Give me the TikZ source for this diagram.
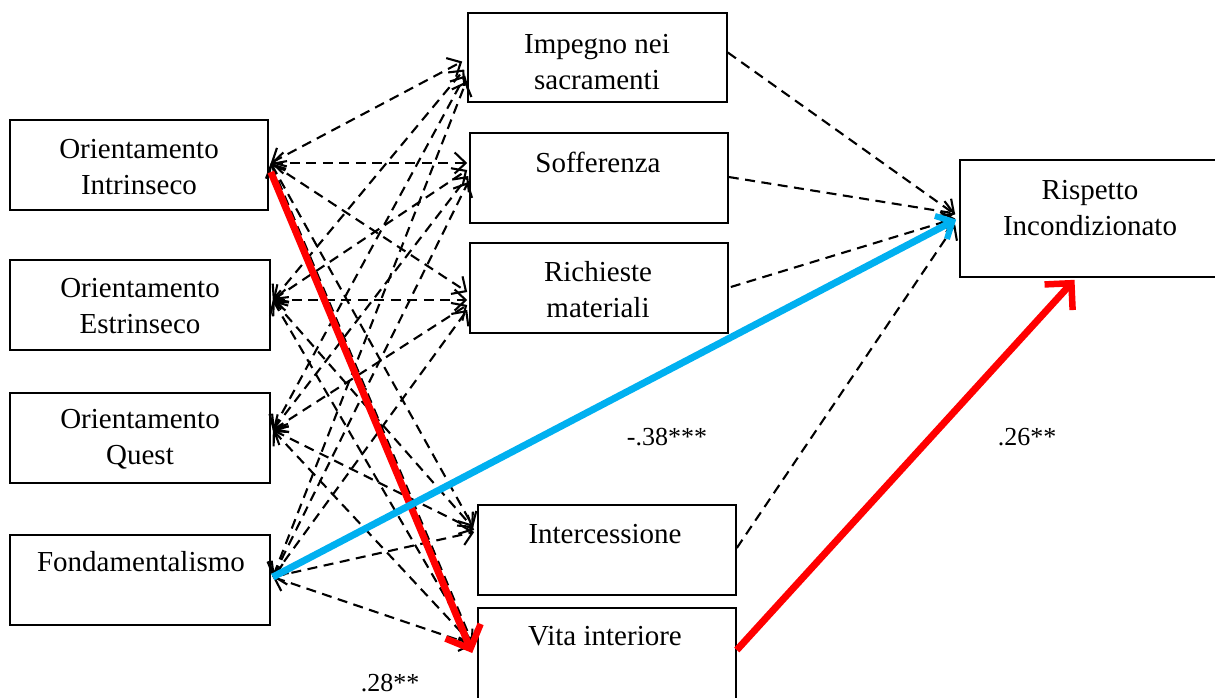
\documentclass[tikz,border=0pt]{standalone}
\usepackage{fontspec}
\setmainfont{Liberation Serif}
\usetikzlibrary{arrows.meta,calc}
\definecolor{pathred}{RGB}{255,0,0}
\definecolor{pathblue}{RGB}{0,176,240}
\begin{document}
\begin{tikzpicture}[x=1pt,y=-1pt,
  box/.style={draw,line width=1.6pt,rectangle,inner sep=0pt},
  txt/.style={font=\fontsize{29}{36}\selectfont,align=center,inner sep=0pt},
  lbl/.style={font=\fontsize{26}{30}\selectfont,inner sep=0pt},
  dsh/.style={line width=2.1pt,dash pattern=on 10pt off 6.5pt},
  bi/.style={dsh,{Straight Barb[length=11pt,width=21pt,line width=2.1pt]}-{Straight Barb[length=11pt,width=21pt,line width=2.1pt]}},
  one/.style={dsh,-{Straight Barb[length=11pt,width=21pt,line width=2.1pt]}},
  thick red/.style={draw=pathred,line width=7pt,-{Straight Barb[length=19pt,width=38pt,line width=6.5pt]}},
  thick blue/.style={draw=pathblue,line width=7pt,-{Straight Barb[length=13pt,width=26pt,line width=6pt]}}
]
\useasboundingbox (0,0) rectangle (1215,697);

% boxes
\node[box,minimum width=258pt,minimum height=90pt] (I) at (139,165) {};
\node[box,minimum width=260pt,minimum height=90pt] (E) at (140,305) {};
\node[box,minimum width=260pt,minimum height=90pt] (Q) at (140,438) {};
\node[box,minimum width=260pt,minimum height=90pt] (F) at (140,580) {};
\node[box,minimum width=259pt,minimum height=89pt] (Imp) at (597.5,57.5) {};
\node[box,minimum width=258pt,minimum height=90pt] (Sof) at (599,178) {};
\node[box,minimum width=258pt,minimum height=90pt] (Ric) at (599,288) {};
\node[box,minimum width=258pt,minimum height=90pt] (Int) at (607,550) {};
\node[box,minimum width=258pt,minimum height=112pt] (Vit) at (607,664) {};
\node[box,minimum width=265pt,minimum height=117pt] (Ris) at (1092.5,218.5) {};

% texts
\node[txt] (tI) at (139,167) {Orientamento\\Intrinseco};
\node[txt] (tE) at (140,306) {Orientamento\\Estrinseco};
\node[txt] (tQ) at (140,439) {Orientamento\\Quest};
\node[txt] (tF) at (141,562) {Fondamentalismo};
\node[txt] (tImp) at (597,62) {Impegno nei\\sacramenti};
\node[txt] (tSof) at (598,162) {Sofferenza};
\node[txt] (tRic) at (598,290) {Richieste\\materiali};
\node[txt] (tInt) at (605,534) {Intercessione};
\node[txt] (tVit) at (605,636) {Vita interiore};
\node[txt] (tRis) at (1090,208) {Rispetto\\Incondizionato};

% left anchor points
\coordinate (Ia) at ($(I.east)+(2,-2)$);
\coordinate (Ea) at ($(E.east)+(2,-5)$);
\coordinate (Qa) at ($(Q.east)+(2,-8)$);
\coordinate (Fa) at ($(F.east)+(2,-3)$);

% dashed paths left -> middle
\draw[bi] (Ia) -- ($(Imp.west)+(-5,4)$);
\draw[bi] (Ea) -- ($(Imp.west)+(-3,12)$);
\draw[bi] (Qa) -- ($(Imp.west)+(-2,18)$);
\draw[bi] (Fa) -- ($(Imp.west)+(-1,24)$);

\draw[bi] (Ia) -- ($(Sof.west)+(-2,-15)$);
\draw[bi] (Ea) -- ($(Sof.west)+(-2,-8)$);
\draw[bi] (Qa) -- ($(Sof.west)+(-1,-2)$);
\draw[bi] (Fa) -- ($(Sof.west)+(-1,4)$);

\draw[bi] (Ia) -- ($(Ric.west)+(-2,4)$);
\draw[bi] (Ea) -- ($(Ric.west)+(-2,12)$);
\draw[bi] (Qa) -- ($(Ric.west)+(-2,17)$);
\draw[bi] (Fa) -- ($(Ric.west)+(-2,22)$);

\draw[bi] (Ia) -- ($(Int.west)+(-4,-23)$);
\draw[bi] (Ea) -- ($(Int.west)+(-4,-22)$);
\draw[bi] (Qa) -- ($(Int.west)+(-3,-20)$);
\draw[bi] (Fa) -- ($(Int.west)+(-3,-18)$);

\draw[bi] (Ia) -- ($(Vit.west)+(-4,-19)$);
\draw[bi] (Ea) -- ($(Vit.west)+(-4,-19)$);
\draw[bi] (Qa) -- ($(Vit.west)+(-4,-19)$);
\draw[bi] (Fa) -- ($(Vit.west)+(-4,-19)$);

% dashed paths middle -> outcome
\draw[one] ($(Imp.east)+(0,-5)$) -- ($(Ris.west)+(-4,-4)$);
\draw[one] ($(Sof.east)+(0,-1)$) -- ($(Ris.west)+(-4,-5)$);
\draw[one] ($(Ric.east)+(2,-1)$) -- ($(Ris.west)+(-4,0)$);
\draw[one] ($(Int.east)+(0,-2)$) -- ($(Ris.west)+(-4,6)$);

% significant paths
\draw[thick red] ($(I.east)+(2,7)$) -- ($(Vit.west)+(-5,-11)$);
\draw[thick blue] (Fa) -- ($(Ris.west)+(-3,1)$);
\draw[thick red] ($(Vit.east)+(0,-14)$) -- ($(Ris.south)+(-18,2)$);

% coefficients
\node[lbl] (c1) at (667,437) {-.38***};
\node[lbl] (c2) at (1027,437) {.26**};
\node[lbl] (c3) at (390,683) {.28**};
\end{tikzpicture}
\end{document}
